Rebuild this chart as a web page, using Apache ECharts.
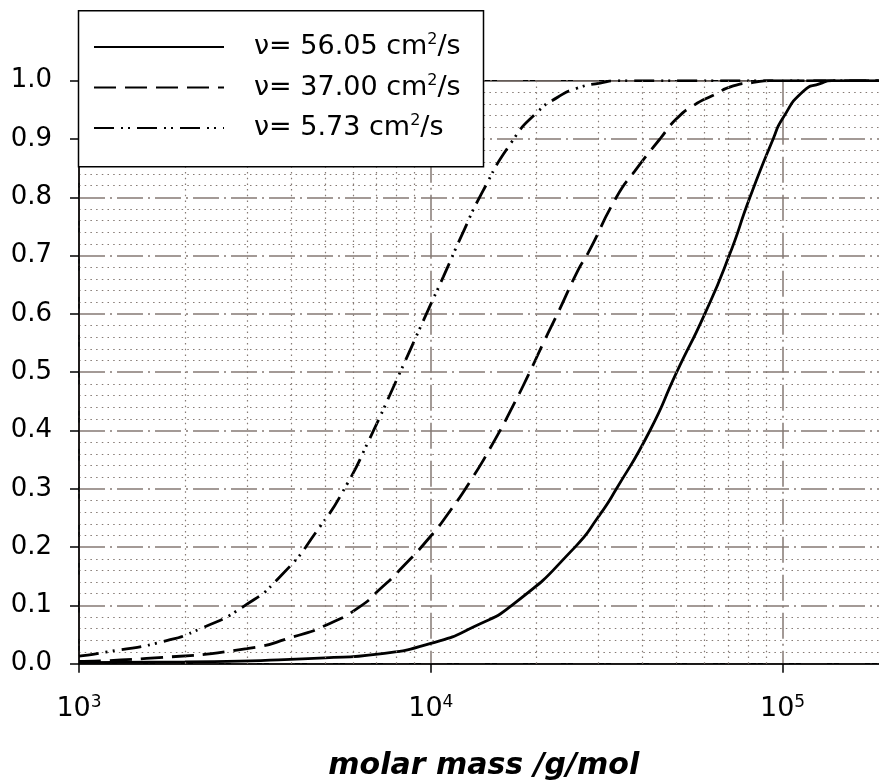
<!DOCTYPE html>
<html><head><meta charset="utf-8">
<script src="https://cdn.jsdelivr.net/npm/echarts@6/dist/echarts.min.js"></script>
<style>html,body{margin:0;padding:0;background:#fff}#c{width:879px;height:782px}</style>
</head><body><div id="c"></div>
<script>
// ---- data ----
const seriesNames = ['ν= 56.05 cm²/s', 'ν= 37.00 cm²/s', 'ν= 5.73 cm²/s'];
const legendLabels = ['{n|ν= 56.05 cm}{s|2}{n|/s}', '{n|ν= 37.00 cm}{s|2}{n|/s}', '{n|ν= 5.73 cm}{s|2}{n|/s}'];

const massNu56 = [1000, 2000, 5000, 7173, 10000, 13210, 17500, 25700, 29940, 33700, 41980, 50000, 60100, 70500, 80760, 94000, 100000, 114500, 127800, 138100, 200000];
const valNu56  = [0.002, 0.003, 0.010, 0.017, 0.035, 0.063, 0.106, 0.200, 0.252, 0.300, 0.400, 0.500, 0.600, 0.700, 0.800, 0.900, 0.935, 0.982, 0.995, 1.0, 1.0];

const massNu37 = [1000, 1557, 3000, 4064, 5166, 6289, 7173, 8170, 10000, 11340, 12920, 15210, 16980, 18930, 20880, 23030, 26220, 28030, 33700, 38000, 44800, 50000, 56000, 63520, 72420, 82560, 92000, 200000];
const valNu37  = [0.004, 0.009, 0.026, 0.046, 0.069, 0.098, 0.128, 0.161, 0.219, 0.262, 0.312, 0.384, 0.438, 0.495, 0.550, 0.603, 0.675, 0.705, 0.800, 0.845, 0.900, 0.935, 0.958, 0.975, 0.991, 0.997, 1.0, 1.0];

const massNu573 = [1000, 1225, 1733, 2234, 2932, 3726, 4842, 5767, 6643, 8000, 9731, 10860, 12250, 13960, 16980, 20000, 23000, 26000, 30270, 34040, 200000];
const valNu573  = [0.013, 0.021, 0.038, 0.061, 0.098, 0.149, 0.235, 0.307, 0.381, 0.487, 0.601, 0.664, 0.735, 0.807, 0.895, 0.945, 0.972, 0.987, 0.996, 1.0, 1.0];

const xTickValues = [1000, 10000, 100000];
const xTickExponents = ['3', '4', '5'];
const minorGridX = [2000, 3000, 4000, 5000, 6000, 7000, 8000, 9000, 20000, 30000, 40000, 50000, 60000, 70000, 80000, 90000];
const xAxisTitle = 'molar mass /g/mol';

// ---- chart ----
const FONT = 'DejaVu Sans';
const GRID_COLOR = '#857a74';
const zip = (xs, ys) => xs.map((x, i) => [x, ys[i]]);

const chart = echarts.init(document.getElementById('c'), null, {renderer: 'canvas'});
const option = {
  animation: false,
  backgroundColor: '#fff',
  grid: {left: 79, top: 80.7, width: 809.5, bottom: 118.3, show: true, borderColor: '#000', borderWidth: 1.5,
         backgroundColor: 'transparent', containLabel: false, outerBoundsMode: 'none'},
  xAxis: {
    type: 'log', logBase: 10, min: 1000, max: 200000,
    axisLine: {show: true, lineStyle: {color: '#000', width: 1.5}},
    axisTick: {show: true, length: 9, inside: false, lineStyle: {color: '#000', width: 1.5}},
    minorTick: {show: false},
    axisLabel: {
      margin: 30,
      formatter: function (v) {
        const i = xTickValues.findIndex(t => Math.abs(t - v) / t < 1e-6);
        return i < 0 ? '' : '{b|10}{s|' + xTickExponents[i] + '}';
      },
      rich: {
        b: {fontFamily: FONT, fontSize: 27, color: '#000', lineHeight: 30},
        s: {fontFamily: FONT, fontSize: 17, color: '#000', verticalAlign: 'top', lineHeight: 18}
      }
    },
    splitLine: {show: true, lineStyle: {color: GRID_COLOR, width: 1.5, type: [26, 5, 2, 5]}},
    name: xAxisTitle, nameLocation: 'middle', nameGap: 88,
    nameTextStyle: {fontFamily: FONT, fontSize: 30, fontWeight: 'bold', fontStyle: 'italic', color: '#000'}
  },
  yAxis: {
    type: 'value', min: 0, max: 1, interval: 0.1,
    axisLine: {show: true, lineStyle: {color: '#000', width: 1.5}},
    axisTick: {show: true, length: 9, lineStyle: {color: '#000', width: 1.5}},
    axisLabel: {margin: 27, fontFamily: FONT, fontSize: 26, color: '#000', formatter: v => v.toFixed(1)},
    splitLine: {show: true, lineStyle: {color: GRID_COLOR, width: 1.5, type: [26, 5, 2, 5]}},
    minorTick: {show: false, splitNumber: 5},
    minorSplitLine: {show: true, lineStyle: {color: GRID_COLOR, width: 1.2, type: [1.5, 4.2]}}
  },
  legend: {
    show: true, orient: 'vertical', left: 93, top: 32, padding: 0,
    itemGap: 10.5, itemWidth: 130, itemHeight: 14, z: 20,
    selectedMode: false,
    data: seriesNames,
    itemStyle: {opacity: 0, borderWidth: 0},
    formatter: name => legendLabels[seriesNames.indexOf(name)],
    textStyle: {
      padding: [0, 0, 0, 25], fontFamily: FONT, fontSize: 27, color: '#000', lineHeight: 30,
      rich: {
        n: {fontFamily: FONT, fontSize: 27, color: '#000', lineHeight: 30},
        s: {fontFamily: FONT, fontSize: 16, color: '#000', verticalAlign: 'top', lineHeight: 18}
      }
    }
  },
  graphic: [{
    type: 'rect', z: 15,
    shape: {x: 78.5, y: 10.7, width: 405, height: 156},
    style: {fill: '#fff', stroke: '#000', lineWidth: 1.5}
  }],
  series: [
    {
      name: 'minor-grid', type: 'line', data: [], symbol: 'none', z: 1, silent: true,
      markLine: {
        silent: true, symbol: ['none', 'none'], label: {show: false}, animation: false,
        lineStyle: {color: GRID_COLOR, width: 1.2, type: [1.5, 4.2]},
        emphasis: {disabled: true},
        data: minorGridX.map(v => ({xAxis: v}))
      }
    },
    {
      name: seriesNames[0], type: 'line', data: zip(massNu56, valNu56), symbol: 'none',
      smooth: 0.6, z: 3, silent: true,
      lineStyle: {color: '#000', width: 2.8, type: 'solid'}, itemStyle: {color: '#000'}
    },
    {
      name: seriesNames[1], type: 'line', data: zip(massNu37, valNu37), symbol: 'none',
      smooth: 0.6, z: 3, silent: true,
      lineStyle: {color: '#000', width: 2.8, type: [22, 9]}, itemStyle: {color: '#000'}
    },
    {
      name: seriesNames[2], type: 'line', data: zip(massNu573, valNu573), symbol: 'none',
      smooth: 0.6, z: 3, silent: true,
      lineStyle: {color: '#000', width: 2.8, type: [20, 7, 2, 5, 2, 7]}, itemStyle: {color: '#000'}
    }
  ]
};
chart.setOption(option);
</script></body></html>
